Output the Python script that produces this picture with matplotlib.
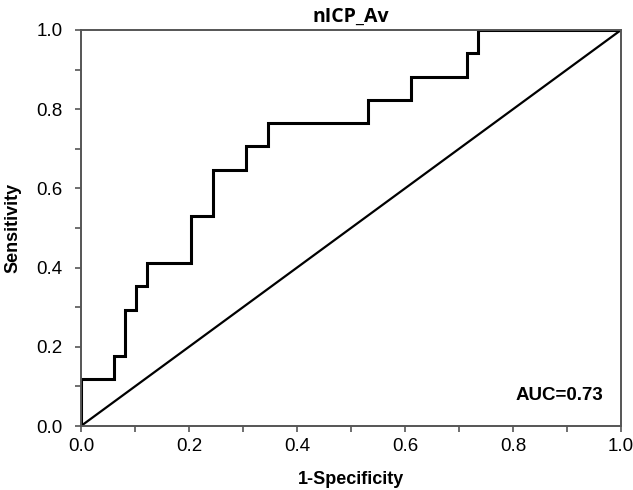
import matplotlib
matplotlib.use("Agg")
import matplotlib.pyplot as plt
from matplotlib.ticker import MultipleLocator

# ROC step points (1-Specificity, Sensitivity)
fpr = [0.0, 0.0, 0.0612, 0.0612, 0.0816, 0.0816, 0.102, 0.102, 0.1224, 0.1224,
       0.204, 0.204, 0.245, 0.245, 0.306, 0.306, 0.347, 0.347, 0.531, 0.531,
       0.612, 0.612, 0.714, 0.714, 0.735, 0.735, 1.0]
tpr = [0.0, 0.1176, 0.1176, 0.1765, 0.1765, 0.2941, 0.2941, 0.3529, 0.3529, 0.4118,
       0.4118, 0.5294, 0.5294, 0.6471, 0.6471, 0.7059, 0.7059, 0.7647, 0.7647, 0.8235,
       0.8235, 0.8824, 0.8824, 0.9412, 0.9412, 1.0, 1.0]
diag_x = [0.0, 1.0]
diag_y = [0.0, 1.0]
ticks = [0.0, 0.2, 0.4, 0.6, 0.8, 1.0]
tick_labels = ["0.0", "0.2", "0.4", "0.6", "0.8", "1.0"]
title = "nICP_Av"
auc_text = "AUC=0.73"

W, H = 633, 490
fig = plt.figure(figsize=(W / 100, H / 100), dpi=100)
ax = fig.add_axes([81 / W, 64 / H, 540 / W, 396 / H])
ax.plot(fpr, tpr, color="black", lw=2.2, solid_joinstyle="miter")
ax.plot(diag_x, diag_y, color="black", lw=1.6)
ax.set_xlim(0, 1)
ax.set_ylim(0, 1)
ax.set_xticks(ticks)
ax.set_yticks(ticks)
ax.set_xticklabels(tick_labels, family="Liberation Sans", fontsize=13.5)
ax.set_yticklabels(tick_labels, family="Liberation Sans", fontsize=13.5)
ax.xaxis.set_minor_locator(MultipleLocator(0.1))
ax.yaxis.set_minor_locator(MultipleLocator(0.1))
ax.tick_params(which="both", direction="out", length=4.3, width=1.2, color="#555555")
ax.tick_params(axis="x", which="major", pad=4.5)
ax.tick_params(axis="y", which="major", pad=9)
for s in ax.spines.values():
    s.set_color("#555555")
    s.set_linewidth(1.4)
ax.set_xlabel("1-Specificity", family="Liberation Sans", fontweight="bold", fontsize=13)
ax.set_ylabel("Sensitivity", family="Liberation Sans", fontweight="bold", fontsize=13)
ax.xaxis.set_label_coords(0.5, (426 - 479) / 396)
ax.xaxis.label.set_va("center")
ax.yaxis.set_label_coords((13 - 81) / 540, 0.5)
ax.yaxis.label.set_va("center")
ax.set_title(title, family="Open Sans", fontweight="bold", fontsize=14, pad=6)
ax.text(0.967, 0.076, auc_text, transform=ax.transAxes, ha="right", va="center",
        family="Liberation Sans", fontweight="bold", fontsize=13.5)
fig.savefig("out.png", dpi=100)
